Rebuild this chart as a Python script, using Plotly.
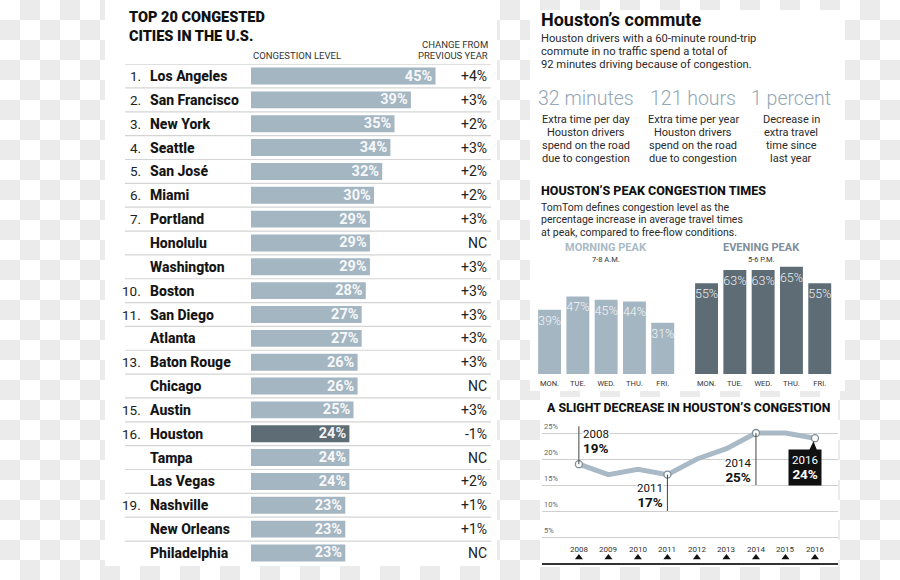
import plotly.graph_objects as go
import numpy as np

# ---------------- data ----------------
ranks = ["1.", "2.", "3.", "4.", "5.", "6.", "7.", "", "", "10.", "11.", "", "13.", "", "15.",
         "16.", "", "", "19.", "", ""]
cities = ["Los Angeles", "San Francisco", "New York", "Seattle", "San José", "Miami", "Portland",
          "Honolulu", "Washington", "Boston", "San Diego", "Atlanta", "Baton Rouge", "Chicago",
          "Austin", "Houston", "Tampa", "Las Vegas", "Nashville", "New Orleans", "Philadelphia"]
congestion = [45, 39, 35, 34, 32, 30, 29, 29, 29, 28, 27, 27, 26, 26, 25, 24, 24, 24, 23, 23, 23]
change = ["+4%", "+3%", "+2%", "+3%", "+2%", "+2%", "+3%", "NC", "+3%", "+3%", "+3%", "+3%",
          "+3%", "NC", "+3%", "-1%", "NC", "+2%", "+1%", "+1%", "NC"]

days = ["MON.", "TUE.", "WED.", "THU.", "FRI."]
morning_peak = [39, 47, 45, 44, 31]
evening_peak = [55, 63, 63, 65, 55]

years = [2008, 2009, 2010, 2011, 2012, 2013, 2014, 2015, 2016]
houston_level = [19, 17, 18, 17, 20, 22, 25, 25, 24]
highlight_idx = [0, 3, 6, 8]
grid_ticks = [5, 10, 15, 20, 25]

stats = ["32 minutes", "121 hours", "1 percent"]
stat_desc = [
    ["Extra time per day", "Houston drivers", "spend on the road", "due to congestion"],
    ["Extra time per year", "Houston drivers", "spend on the road", "due to congestion"],
    ["Decrease in", "extra travel", "time since", "last year"],
]

# ---------------- style ----------------
W, H = 900, 580
FONT = "Roboto, Arial, sans-serif"
LIGHT = "#a5b6c3"
DARK = "#5e6c76"
STAT = "#93a6b4"


def px(x):
    return x / W


def py(y):
    return 1 - y / H


fig = go.Figure()

# ---- checkerboard background (decoration) ----
cx = np.arange(10, W, 20)
cy = np.arange(10, H, 20)
zz = (np.add.outer(np.arange(len(cy)), np.arange(len(cx))) % 2).astype(float)
fig.add_trace(go.Heatmap(x=cx, y=cy, z=zz, colorscale=[[0, "#ffffff"], [1, "#ebebeb"]],
                         showscale=False, hoverinfo="skip", xaxis="x", yaxis="y"))
panels = [(105, 497, 0, 566), (530, 845, 10, 391), (540, 838, 397, 567)]
for x0, x1, y0, y1 in panels:
    fig.add_trace(go.Scatter(x=[x0, x1, x1, x0, x0], y=[y0, y0, y1, y1, y0], fill="toself",
                             fillcolor="white", line=dict(width=0), mode="lines",
                             hoverinfo="skip", showlegend=False, xaxis="x", yaxis="y"))

# ---- left table bars ----
n = len(cities)
bar_colors = [DARK if c == "Houston" else LIGHT for c in cities]
fig.add_trace(go.Bar(
    x=congestion, y=list(range(n)), orientation="h", width=0.71,
    marker=dict(color=bar_colors, line=dict(width=0)),
    text=[f"{v}%" for v in congestion], textposition="inside", insidetextanchor="end",
    constraintext="none", textangle=0,
    textfont=dict(color="rgba(255,255,255,0.93)", size=14.5, family=FONT, weight="bold"),
    hoverinfo="skip", showlegend=False, xaxis="x2", yaxis="y2", cliponaxis=False))

# ---- peak bars ----
for vals, col, xa, ya in [(morning_peak, LIGHT, "x3", "y3"), (evening_peak, DARK, "x4", "y4")]:
    fig.add_trace(go.Bar(
        x=list(range(5)), y=vals, width=0.81, marker=dict(color=col, line=dict(width=0)),
        text=[f"{v}%" for v in vals], textposition="inside", insidetextanchor="end",
        constraintext="none", textangle=0,
        textfont=dict(color="rgba(255,255,255,0.9)", size=12.5, family=FONT, weight=300),
        hoverinfo="skip", showlegend=False, xaxis=xa, yaxis=ya, cliponaxis=False))

# ---- line chart ----
fig.add_trace(go.Scatter(x=years, y=houston_level, mode="lines",
                         line=dict(color="#a9bac6", width=5), hoverinfo="skip",
                         showlegend=False, xaxis="x5", yaxis="y5", cliponaxis=False))
fig.add_trace(go.Scatter(x=[years[i] for i in highlight_idx],
                         y=[houston_level[i] for i in highlight_idx], mode="markers",
                         marker=dict(color="white", size=7, line=dict(color="#7d8d98", width=1.3)),
                         hoverinfo="skip", showlegend=False, xaxis="x5", yaxis="y5",
                         cliponaxis=False))
# year tick triangles
fig.add_trace(go.Scatter(x=years, y=[1.05] * len(years), mode="markers",
                         marker=dict(symbol="triangle-up", size=7, color="#111"),
                         hoverinfo="skip", showlegend=False, xaxis="x5", yaxis="y5",
                         cliponaxis=False))

ann = []


def A(text, x, y, size, color="#222", xanchor="left", yanchor="middle", family=FONT,
      xref="paper", yref="paper", bold=False, bg=None, weight=None, align="left"):
    w = weight if weight is not None else ("bold" if bold else "normal")
    d = dict(text=text, x=x, y=y, xref=xref, yref=yref, xanchor=xanchor, yanchor=yanchor,
             showarrow=False, align=align,
             font=dict(size=size, color=color, family=family, weight=w))
    if bg:
        d["bgcolor"] = bg
        d["borderpad"] = 0
    ann.append(d)


# left panel texts
A("TOP 20 CONGESTED<br>CITIES IN THE U.S.", px(127), py(27), 14.5, "#111", weight=900)
A("CONGESTION LEVEL", px(251), py(56), 9.5, "#333")
A("CHANGE FROM", px(490), py(44), 9.5, "#333", xanchor="right")
A("PREVIOUS YEAR", px(490), py(56), 9.5, "#333", xanchor="right")
for i in range(n):
    if ranks[i]:
        A(ranks[i], px(143), i, 13.5, "#222", xanchor="right", yref="y2")
    A(cities[i], px(148), i, 14, "#151515", yref="y2", weight=800)
    A(change[i], px(489), i, 14, "#222", xanchor="right", yref="y2")

shapes = []
for i in range(n):
    shapes.append(dict(type="line", xref="paper", yref="y2", x0=px(125), x1=px(491),
                       y0=i - 0.5, y1=i - 0.5, line=dict(color="#d4d4d4", width=1.2),
                       layer="above"))

# right top texts
A("Houston’s commute", px(539), py(20), 18, "#111", bold=True)
for k, t in enumerate(["Houston drivers with a 60-minute round-trip",
                       "commute in no traffic spend a total of",
                       "92 minutes driving because of congestion."]):
    A(t, px(539), py(38 + 13 * k), 11.2, "#2a2a2a")
stat_x = [586, 693, 791]
for s, d, xc in zip(stats, stat_desc, stat_x):
    A(s, px(xc), py(99), 19.5, STAT, xanchor="center", weight=300)
    for k, t in enumerate(d):
        A(t, px(xc), py(120 + 12.7 * k), 11, "#2a2a2a", xanchor="center")

A("HOUSTON’S PEAK CONGESTION TIMES", px(539), py(190), 12.5, "#111", weight=800)
for k, t in enumerate(["TomTom defines congestion level as the",
                       "percentage increase in average travel times",
                       "at peak, compared to free-flow conditions."]):
    A(t, px(539), py(207 + 12.5 * k), 10.5, "#2a2a2a")
A("MORNING PEAK", px(606), py(248), 11, "#a9bac6", xanchor="center", bold=True)
A("7-8 A.M.", px(606), py(259), 7.5, "#333", xanchor="center")
A("EVENING PEAK", px(761), py(248), 11, "#7f8f9b", xanchor="center", bold=True)
A("5-6 P.M.", px(761), py(259), 7.5, "#333", xanchor="center")

# line chart texts
A("A SLIGHT DECREASE IN HOUSTON’S CONGESTION", px(545), py(408), 12.3, "#111", weight=800)
for g in grid_ticks:
    A(f"{g}%", px(542), g, 7.5, "#666", yanchor="bottom", yref="y5")
for yv in years:
    A(str(yv), yv, py(549), 8, "#333", xanchor="center", xref="x5")

i08, i11, i14, i16 = highlight_idx


def lab(i):
    return f"{years[i]}<br><span style='font-size:13.5px'><b>{houston_level[i]}%</b></span>"


A(lab(i08), years[i08] + 0.1, 26.4, 11.5, "#111", xanchor="left", yanchor="top",
  xref="x5", yref="y5", bg="white")
A(lab(i11), years[i11] - 0.12, 10.0, 11.5, "#111", xanchor="right", yanchor="bottom",
  xref="x5", yref="y5", bg="white", align="right")
A(lab(i14), years[i14] - 0.12, 14.9, 11.5, "#111", xanchor="right", yanchor="bottom",
  xref="x5", yref="y5", bg="white", align="right")
ann.append(dict(text=lab(i16), x=years[i16] + 0.23,
                y=14.9, xref="x5", yref="y5", xanchor="right", yanchor="bottom",
                showarrow=False, align="right", bgcolor="#111", borderpad=3,
                font=dict(size=11.5, color="white", family=FONT)))
# leader lines
shapes.append(dict(type="line", xref="x5", yref="y5", x0=years[i08], x1=years[i08],
                   y0=houston_level[i08], y1=26.3, line=dict(color="#444", width=1)))
shapes.append(dict(type="line", xref="x5", yref="y5", x0=years[i11], x1=years[i11],
                   y0=houston_level[i11], y1=10.0, line=dict(color="#444", width=1)))
shapes.append(dict(type="line", xref="x5", yref="y5", x0=years[i14], x1=years[i14],
                   y0=houston_level[i14], y1=15.0, line=dict(color="#444", width=1)))
# speech pointer for 2016 box
shapes.append(dict(type="path", xref="x5", yref="y5",
                   path=f"M {years[i16]-0.05},{houston_level[i16]-0.6} L {years[i16]-0.3},20.5 L {years[i16]+0.15},20.5 Z",
                   fillcolor="#111", line=dict(width=0)))

hidden = dict(visible=False, fixedrange=True)
day_axis = dict(range=[-0.5, 4.5], tickvals=list(range(5)), ticktext=days, showgrid=False,
                zeroline=False, showline=False, ticks="outside", ticklen=2,
                tickcolor="rgba(0,0,0,0)", tickfont=dict(size=7.5, color="#333", family=FONT),
                fixedrange=True)
fig.update_layout(
    width=W, height=H, margin=dict(l=0, r=0, t=0, b=0),
    paper_bgcolor="white", plot_bgcolor="rgba(0,0,0,0)", showlegend=False,
    font=dict(family=FONT),
    xaxis=dict(domain=[0, 1], range=[0, W], **hidden),
    yaxis=dict(domain=[0, 1], range=[H, 0], **hidden),
    xaxis2=dict(domain=[px(251), px(490)], range=[0, 239 / 4.1], anchor="y2", **hidden),
    yaxis2=dict(domain=[py(564.9), py(64.1)], range=[n - 0.5, -0.5], anchor="x2", **hidden),
    xaxis3=dict(domain=[px(535.4), px(676.9)], anchor="y3", **day_axis),
    yaxis3=dict(domain=[py(374), py(258.5)], range=[0, 70], anchor="x3", **hidden),
    xaxis4=dict(domain=[px(692.4), px(833.9)], anchor="y4", **day_axis),
    yaxis4=dict(domain=[py(374), py(258.5)], range=[0, 70], anchor="x4", **hidden),
    xaxis5=dict(domain=[px(542), px(838)], range=[2006.75, 2016.78], anchor="y5",
                showgrid=False, zeroline=False, showline=True, linecolor="#333", linewidth=2,
                showticklabels=False, ticks="", fixedrange=True),
    yaxis5=dict(domain=[py(563), py(422.6)], range=[0, 27], anchor="x5", tickvals=grid_ticks,
                showgrid=True, gridcolor="#cfcfcf", gridwidth=1, zeroline=False,
                showticklabels=False, ticks="", showline=False, fixedrange=True),
    annotations=ann, shapes=shapes,
)

fig.write_html("out.html", config={"displayModeBar": False},
               post_script="document.body.style.margin='0px';")
